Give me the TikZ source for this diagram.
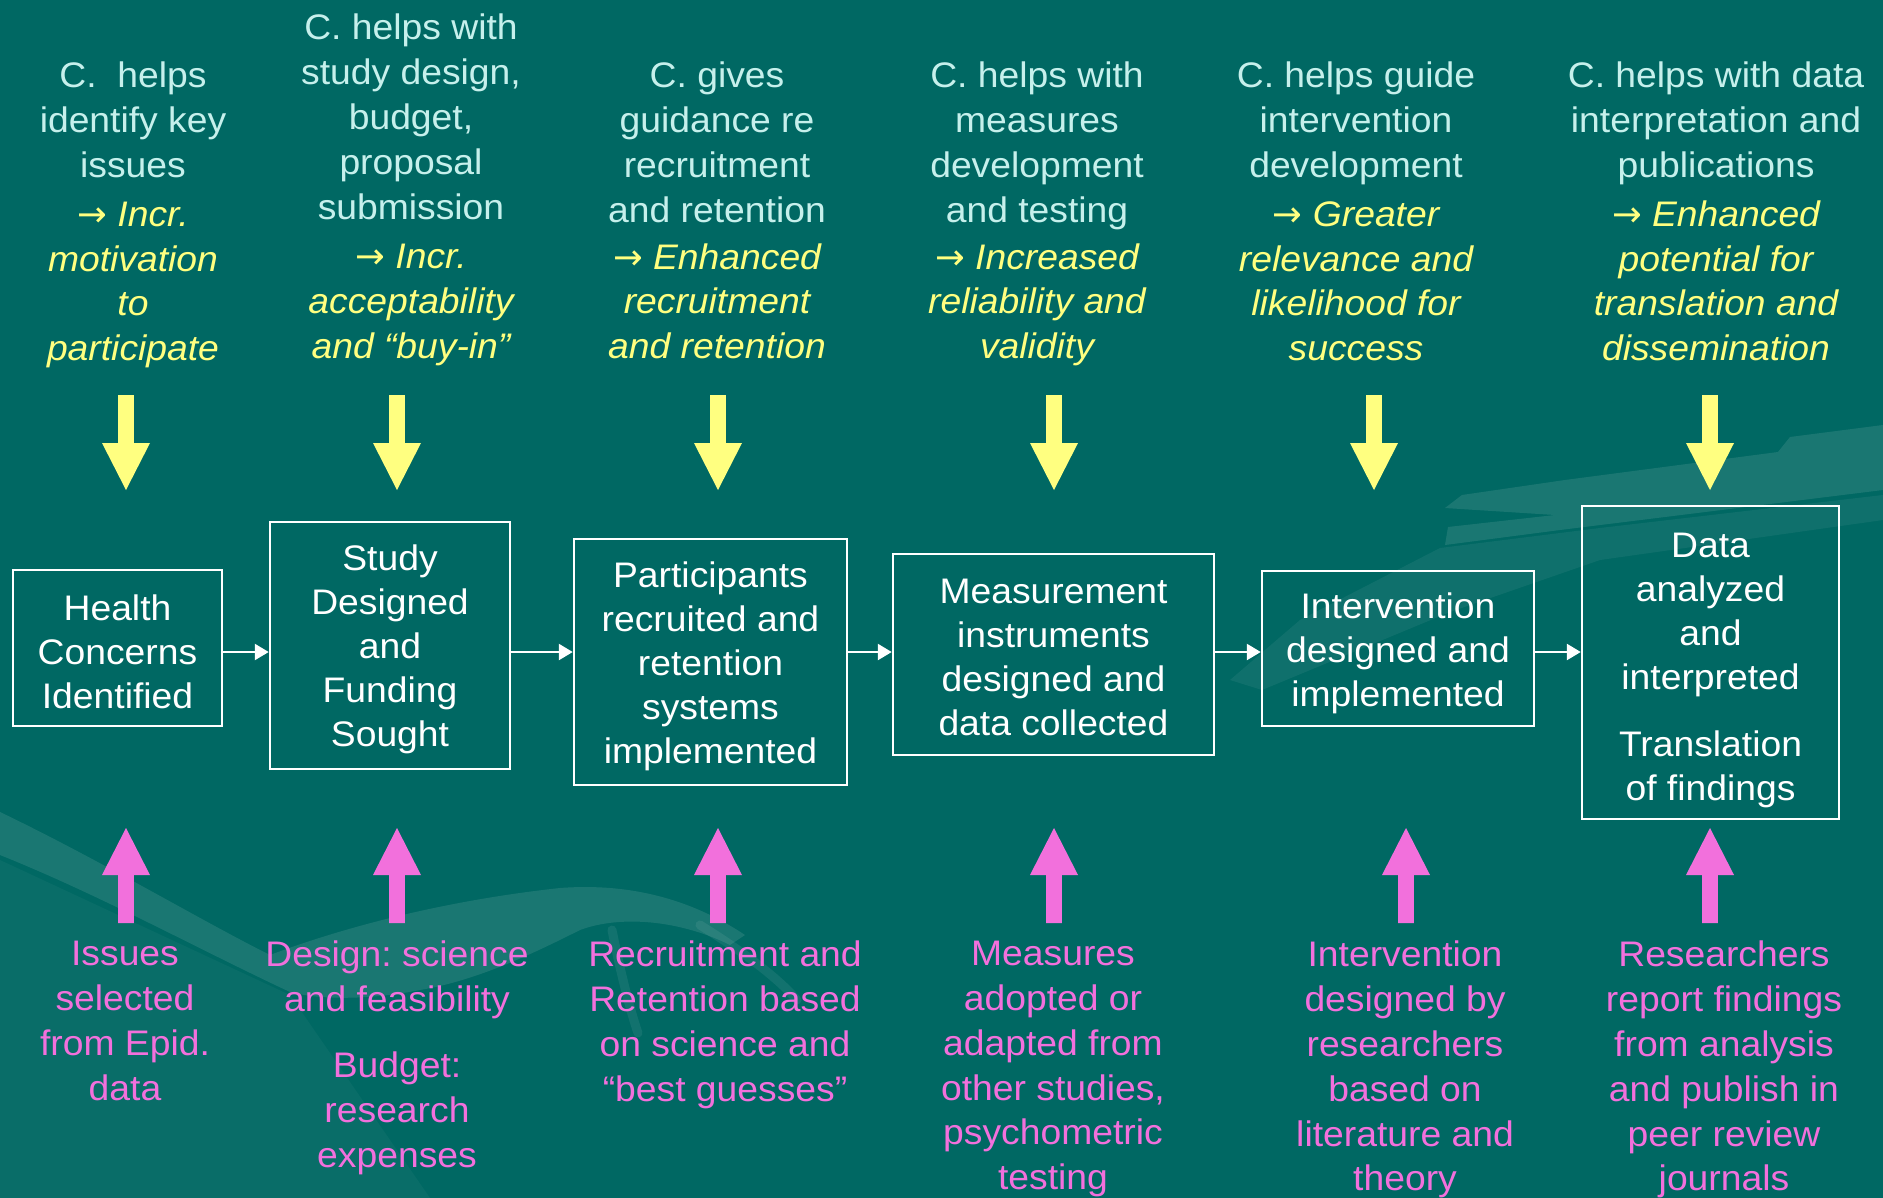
\documentclass[tikz,border=0pt]{standalone}
\usepackage{fontspec}
\setmainfont{Liberation Sans}[FakeStretch=1.05]
\newfontfamily\arrowfont{DejaVu Sans}
\usetikzlibrary{arrows.meta}
\definecolor{bg}{RGB}{0,104,99}
\definecolor{pale}{RGB}{198,240,236}
\definecolor{yel}{RGB}{255,255,128}
\definecolor{pink}{RGB}{242,112,220}
\newcommand{\yl}[1]{{\color{yel}\itshape #1}}
\newcommand{\ra}{{\arrowfont →}}
\newcommand{\lift}[1]{\rule{0pt}{#1}}
\frenchspacing

\begin{document}
\begin{tikzpicture}[x=1pt,y=-1pt,
  txt/.style={font=\fontsize{35.5}{44.8}\selectfont, align=center, inner sep=0pt, anchor=north},
  helptext/.style={txt, text=pale},
  sourcetext/.style={txt, text=pink},
  stage/.style={draw=white, line width=2.5pt, text=white, align=center,
    font=\fontsize{35.5}{44}\selectfont, inner sep=0pt},
  flow/.style={draw=white, line width=2.5pt, -{Triangle[length=14pt,width=16pt]}},
  downarrow/.pic={\fill[yel] (-7.8,0) -- (7.8,0) -- (7.8,48) -- (24,48) -- (0,95) -- (-24,48) -- (-7.8,48) -- cycle;},
  uparrow/.pic={\fill[pink] (-7.8,0) -- (7.8,0) -- (7.8,-48) -- (24,-48) -- (0,-95) -- (-24,-48) -- (-7.8,-48) -- cycle;},
  swoosh/.style={fill=white, opacity=0.1}
]
% background
\useasboundingbox (0,0) rectangle (1883,1198);
\fill[bg] (0,0) rectangle (1883,1198);

% faint figure in the background
\fill[white, opacity=0.035] (0,860) -- (290,995) -- (430,1198) -- (0,1198) -- cycle;
\fill[swoosh] (0,812) .. controls (100,860) and (200,920) .. (270,955)
  .. controls (350,925) and (450,900) .. (560,888)
  .. controls (640,882) and (700,905) .. (745,935) -- (730,945)
  .. controls (680,920) and (620,915) .. (580,930)
  .. controls (540,950) and (480,980) .. (420,990)
  .. controls (370,1000) and (320,1000) .. (290,992)
  .. controls (200,950) and (100,895) .. (0,855) -- cycle;
\draw[white, opacity=0.07, line width=9pt, line cap=round] (612,930) .. controls (620,970) and (630,1010) .. (638,1033);
\draw[white, opacity=0.07, line width=9pt, line cap=round] (700,925) .. controls (740,950) and (775,975) .. (797,1000);
\fill[swoosh] (1883,425) -- (1790,437) -- (1778,452) -- (1565,480) -- (1462,495) -- (1445,508)
  -- (1555,515) -- (1448,527) -- (1445,545) -- (1560,530) -- (1883,490) -- cycle;
\fill[white, opacity=0.06] (1883,520) -- (1600,560) -- (1450,612) -- (1262,690) -- (1230,680)
  -- (1300,620) -- (1440,548) -- (1600,528) -- (1883,495) -- cycle;

% stages
\node[stage, minimum width=209pt, minimum height=156pt] (b1) at (117.5,648) {\lift{33pt}Health\\Concerns\\Identified};
\node[stage, minimum width=240pt, minimum height=247pt] (b2) at (390,645.5) {\lift{34pt}Study\\Designed\\and\\Funding\\Sought};
\node[stage, minimum width=273pt, minimum height=246pt] (b3) at (710.5,662) {\lift{34pt}Participants\\recruited and\\retention\\systems\\implemented};
\node[stage, minimum width=321pt, minimum height=201pt] (b4) at (1053.5,654.5) {\lift{31pt}Measurement\\instruments\\designed and\\data collected};
\node[stage, minimum width=272pt, minimum height=155pt] (b5) at (1398,648.5) {\lift{36pt}Intervention\\designed and\\implemented};
\node[stage, minimum width=257pt, minimum height=313pt] (b6) at (1710.5,662.5) {\lift{40pt}Data\\analyzed\\and\\interpreted\\[23pt]Translation\\of findings};

% flow between stages
\coordinate (row) at (0,652);
\draw[flow] (b1.east |- row) -- (b2.west |- row);
\draw[flow] (b2.east |- row) -- (b3.west |- row);
\draw[flow] (b3.east |- row) -- (b4.west |- row);
\draw[flow] (b4.east |- row) -- (b5.west |- row);
\draw[flow] (b5.east |- row) -- (b6.west |- row);

% contributions (top)
\node[helptext] (h1) at (133,62) {C.\ \ helps\\identify key\\issues\\[4pt]\yl{\ra\ Incr.}\\\yl{motivation}\\\yl{to}\\\yl{participate}};
\node[helptext] (h2) at (411,14) {C. helps with\\study design,\\budget,\\proposal\\submission\\[5pt]\yl{\ra\ Incr.}\\\yl{acceptability}\\\yl{and “buy-in”}};
\node[helptext] (h3) at (717,62) {C. gives\\guidance re\\recruitment\\and retention\\[2pt]\yl{\ra\ Enhanced}\\\yl{recruitment}\\\yl{and retention}};
\node[helptext] (h4) at (1037,62) {C. helps with\\measures\\development\\and testing\\[2pt]\yl{\ra\ Increased}\\\yl{reliability and}\\\yl{validity}};
\node[helptext] (h5) at (1356,62) {C. helps guide\\intervention\\development\\[4pt]\yl{\ra\ Greater}\\\yl{relevance and}\\\yl{likelihood for}\\\yl{success}};
\node[helptext] (h6) at (1716,62) {C. helps with data\\interpretation and\\publications\\[4pt]\yl{\ra\ Enhanced}\\\yl{potential for}\\\yl{translation and}\\\yl{dissemination}};

% input arrows
\foreach \x in {126,397,718,1054,1374,1710} {
  \pic at (\x,395) {downarrow};
}
\foreach \x in {126,397,718,1054,1406,1710} {
  \pic at (\x,923) {uparrow};
}

% researcher side (bottom)
\node[sourcetext] (s1) at (125,941) {Issues\\selected\\from Epid.\\data};
\node[sourcetext] (s2) at (397,941) {Design: science\\and feasibility\\[21pt]Budget:\\research\\expenses};
\node[sourcetext] (s3) at (725,941) {Recruitment and\\Retention based\\on science and\\“best guesses”};
\node[sourcetext] (s4) at (1053,941) {Measures\\adopted or\\adapted from\\other studies,\\psychometric\\testing};
\node[sourcetext] (s5) at (1405,941) {Intervention\\designed by\\researchers\\based on\\literature and\\theory};
\node[sourcetext] (s6) at (1724,941) {Researchers\\report findings\\from analysis\\and publish in\\peer review\\journals};
\end{tikzpicture}
\end{document}
